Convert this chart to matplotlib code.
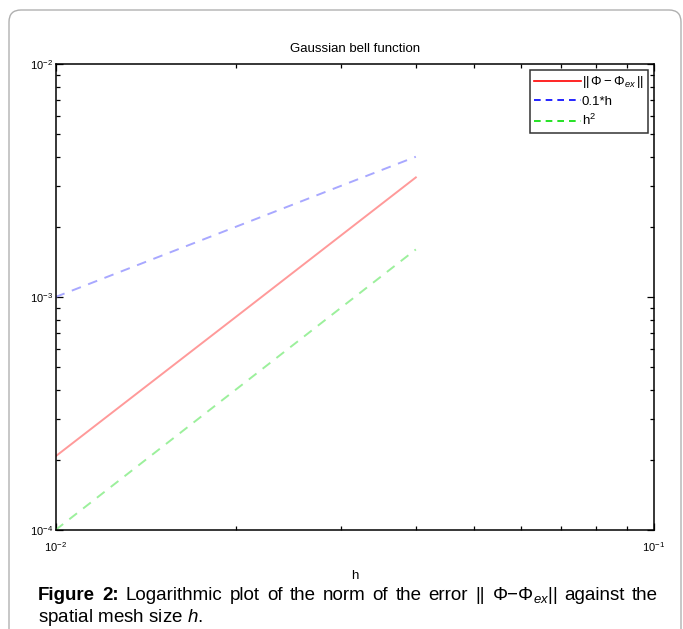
import matplotlib
matplotlib.use("Agg")
import matplotlib.pyplot as plt
from matplotlib.lines import Line2D
from matplotlib.patches import FancyBboxPatch
from matplotlib.transforms import IdentityTransform
from matplotlib.ticker import LogLocator, NullFormatter

plt.rcParams["font.family"] = ["Liberation Sans", "DejaVu Sans"]
plt.rcParams["mathtext.fontset"] = "custom"
plt.rcParams["mathtext.rm"] = "Liberation Sans"
plt.rcParams["mathtext.it"] = "Liberation Sans:italic"
plt.rcParams["mathtext.bf"] = "Liberation Sans:bold"

# data
h = [0.01, 0.02, 0.04]
err = [2.07e-4, 8.2e-4, 3.26e-3]
ref_h = [1.0e-3, 2.0e-3, 4.0e-3]
ref_h2 = [1.0e-4, 4.0e-4, 1.6e-3]

W, H = 683, 629
fig = plt.figure(figsize=(W / 100, H / 100), dpi=100)

# outer rounded frame (pixel coords, origin bottom-left)
frame = FancyBboxPatch((9, -30), 672, H - 10 + 30,
                       boxstyle="round,pad=0,rounding_size=12",
                       transform=IdentityTransform(), fill=False,
                       edgecolor="#b0b0b0", linewidth=1.0)
fig.patches.append(frame)

ax = fig.add_axes([55.5 / W, (H - 530) / H, (654 - 55.5) / W, (530 - 64) / H])
ax.set_xscale("log")
ax.set_yscale("log")

ax.plot(h, err, color="#ff9a9a", linewidth=1.4)
ax.plot(h, ref_h, color="#a8a8ff", linewidth=1.4, linestyle=(0, (5, 4)))
ax.plot(h, ref_h2, color="#9cf09c", linewidth=1.4, linestyle=(0, (5, 4)))

ax.set_xlim(1e-2, 1e-1)
ax.set_ylim(1e-4, 1e-2)
ax.xaxis.set_major_locator(LogLocator(base=10, numticks=5))
ax.yaxis.set_major_locator(LogLocator(base=10, numticks=5))
ax.xaxis.set_minor_formatter(NullFormatter())
ax.yaxis.set_minor_formatter(NullFormatter())
ax.tick_params(which="both", direction="in", top=True, right=True,
               width=0.9, labelsize=8)
ax.tick_params(which="major", length=5)
ax.tick_params(which="minor", length=2.6)
ax.tick_params(axis="x", which="major", pad=7)
ax.tick_params(axis="y", which="major", pad=2)
for s in ax.spines.values():
    s.set_linewidth(1.1)

ax.set_title("Gaussian bell function", fontsize=9.5, pad=9)
ax.set_xlabel("h", fontsize=9.5, labelpad=12)

handles = [
    Line2D([], [], color="red", linewidth=1.2),
    Line2D([], [], color="blue", linewidth=1.2, linestyle=(0, (4, 3))),
    Line2D([], [], color="#00dd00", linewidth=1.2, linestyle=(0, (4, 3))),
]
labels = [r"$||\,\Phi - \Phi_{ex}\,||$", "0.1*h", r"h$^2$"]
leg = ax.legend(handles, labels, loc="upper right", fontsize=9.5,
                frameon=True, fancybox=False, edgecolor="black",
                handlelength=3.5, handletextpad=0.1, borderpad=0.35,
                labelspacing=0.4, borderaxespad=0.2,
                bbox_to_anchor=(1 - 3 / (654 - 55.5), 1 - 3 / (530 - 64)))
leg.get_frame().set_linewidth(1.1)

# caption, first line justified between x=38 and x=658
cap_size = 13.5
words = [("Figure", "bold"), ("2:", "bold"), ("Logarithmic", "normal"),
         ("plot", "normal"), ("of", "normal"), ("the", "normal"),
         ("norm", "normal"), ("of", "normal"), ("the", "normal"),
         ("error", "normal"), ("||", "normal"),
         (r"$\Phi{-}\Phi_{ex}$||", "normal"), ("against", "normal"),
         ("the", "normal")]
x_left, x_right = 38, 658
y1 = 1 - 600 / H
y2 = 1 - 622 / H
renderer = fig.canvas.get_renderer()
objs = []
for w, wt in words:
    t = fig.text(0, y1, w, fontsize=cap_size, fontweight=wt,
                 va="baseline", ha="left")
    objs.append(t)
widths = [t.get_window_extent(renderer).width for t in objs]
gap = (x_right - x_left - sum(widths)) / (len(objs) - 1)
x = x_left
for t, wd in zip(objs, widths):
    t.set_x(x / W)
    x += wd + gap

fig.text(x_left / W, y2, r"spatial mesh size $\mathit{h}$.",
         fontsize=cap_size, va="baseline", ha="left")

fig.savefig("out.png", dpi=100)
